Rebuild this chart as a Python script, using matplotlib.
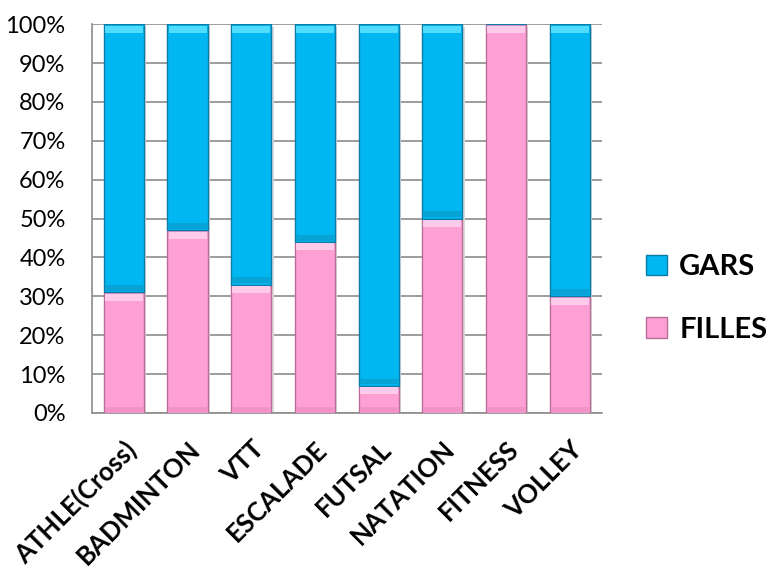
import matplotlib
matplotlib.use("Agg")
import matplotlib.pyplot as plt
import numpy as np
from matplotlib.ticker import PercentFormatter

categories = ["ATHLE(Cross)", "BADMINTON", "VTT", "ESCALADE", "FUTSAL", "NATATION", "FITNESS", "VOLLEY"]
filles = [31, 47, 33, 44, 7, 50, 100, 30]
gars = [69, 53, 67, 56, 93, 50, 0, 70]

plt.rcParams['font.family'] = ['Lato', 'DejaVu Sans']

fig = plt.figure(figsize=(7.77, 5.76), dpi=100)
ax = fig.add_axes([0.1184, 0.283, 0.656, 0.675])

x = np.arange(len(categories))
w = 0.63
tot = np.array(filles) + np.array(gars)
f_pct = np.array(filles) / tot * 100
g_pct = np.array(gars) / tot * 100

pink = "#FFA0D4"
blue = "#00B7F1"
# shadow
ax.bar(x + 0.035, f_pct + g_pct, w, bottom=-0.6, color="#DADADA", zorder=2, linewidth=0)
bf = ax.bar(x, f_pct, w, color=pink, edgecolor="#B86E98", linewidth=1.0, label="FILLES", zorder=3)
bg = ax.bar(x, g_pct, w, bottom=f_pct, color=blue, edgecolor="#0A7CA6", linewidth=1.0, label="GARS", zorder=3)

# bevel highlights at the top of each segment
hl = 1.8
mask_f = f_pct > hl
ax.bar(x[mask_f], hl, w * 0.95, bottom=f_pct[mask_f] - hl - 0.35, color="#FFCBEA", linewidth=0, zorder=4)
mask_g = g_pct > hl
ax.bar(x[mask_g], hl, w * 0.95, bottom=(f_pct + g_pct)[mask_g] - hl - 0.35, color="#4FDCFF", linewidth=0, zorder=4)
# subtle darker bottom rim of segments
ax.bar(x[mask_g], 1.5, w * 0.95, bottom=f_pct[mask_g] + 0.35, color="#07A2D6", linewidth=0, zorder=4)
ax.bar(x[mask_f], 1.2, w * 0.95, bottom=0.35, color="#F293C8", linewidth=0, zorder=4)

ax.set_xlim(-0.5, len(categories) - 0.5)
ax.set_ylim(0, 100)
ax.set_yticks(np.arange(0, 101, 10))
ax.yaxis.set_major_formatter(PercentFormatter(decimals=0))
ax.grid(axis='y', color='#8C8C8C', linewidth=1.2, zorder=0)
ax.set_axisbelow(True)
for s in ['top', 'right']:
    ax.spines[s].set_visible(False)
for s in ['left', 'bottom']:
    ax.spines[s].set_color('#8C8C8C')
    ax.spines[s].set_linewidth(1.2)
ax.tick_params(axis='y', length=0, labelsize=17, pad=19)
ax.tick_params(axis='x', length=0, pad=17)
ax.set_xticks(x)
ax.set_xticklabels(categories, rotation=45, ha='right', rotation_mode='anchor',
                   fontsize=18.5, fontweight='bold')

leg = fig.legend(handles=[bg, bf], labels=["GARS", "FILLES"], loc='center left',
                 bbox_to_anchor=(0.832, 0.482), frameon=False,
                 prop={'weight': 'bold', 'size': 21}, handlelength=0.72, handleheight=0.72,
                 handletextpad=0.4, labelspacing=1.25, borderaxespad=0, borderpad=0)

fig.savefig("out.png", dpi=100)
